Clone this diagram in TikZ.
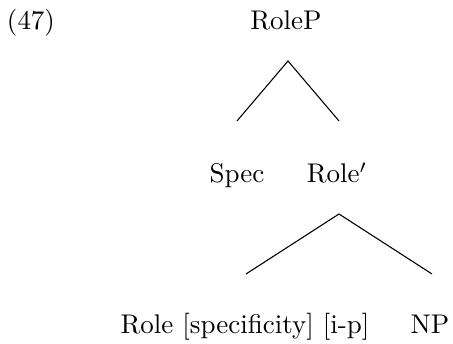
\documentclass[tikz,border=0pt]{standalone}
\usetikzlibrary{calc}
\begin{document}
\begin{tikzpicture}[x=0.3704pt,y=-0.3704pt,
  lab/.style={inner sep=0pt,outer sep=0pt,anchor=base},
  branch/.style={draw=black,line width=0.4pt}]
\useasboundingbox (0,0) rectangle (453,344);
\node[lab,anchor=base west] (ex) at (7,30) {(47)};
\node[lab] (rolep) at (286,30) {RoleP};
\node[lab] (spec) at (237,183) {Spec};
\node[lab] (rolebar) at (337,183) {Role$'$};
\node[lab] (role) at (245,334) {Role [specificity] [i-p]};
\node[lab] (np) at (430,334) {NP};
\draw[branch] ($(spec.base)+(0,-62)$) -- ($(rolep.base)+(2,31)$) -- ($(rolebar.base)+(2,-62)$);
\draw[branch] ($(role.base)+(1,-60)$) -- ($(rolebar.base)+(2,31)$) -- ($(np.base)+(2,-60)$);
\end{tikzpicture}
\end{document}
